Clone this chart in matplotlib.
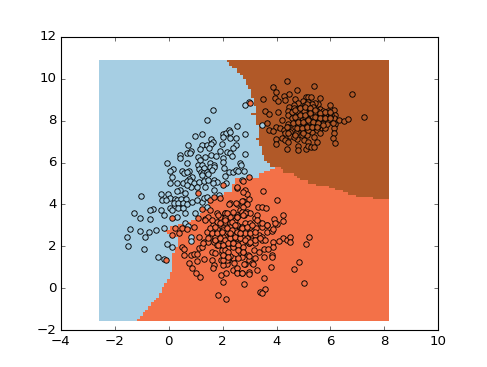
#Decision regions of a 3 class classifier with the samples on top

import numpy as np
import matplotlib
matplotlib.use("Agg")
import matplotlib.pyplot as plt
from matplotlib.colors import ListedColormap

class_colors = ["#a6cee3", "#f37148", "#b15928"]

#blue samples
x0 = [1.65,1.43,2.55,2.83,1.25,0.98,2.03,2.12,2.24,2.26,2.03,2.29,2.49,0.73,1.25,1.41,1.57,1.63,1.56,1.97,2.49,2.37,1.51,1.17,0.83,0.69,0.79,1.92,2.16,2.29,2.35,2.84,0.41,0.41,1.10,1.36,1.56,1.74,2.00,1.17,-0.05,0.69,1.08,1.25,1.55,1.68,2.03,2.65,2.67,0.16,0.05,0.51,0.57,0.77,0.67,1.14,1.32,1.55,1.69,2.05,1.21,1.27,1.42,1.61,2.23,2.37,2.49,2.58,2.81,0.11,0.88,0.74,1.24,1.46,2.07,0.05,0.32,0.53,0.68,0.79,0.94,1.11,1.30,1.46,1.67,1.79,2.73,2.96,2.83,
      -1.01,-0.27,-0.01,0.04,-0.26,-0.10,0.22,0.32,0.47,0.64,0.21,0.36,0.54,0.67,0.05,0.36,0.54,-0.57,-0.68,-0.27,-1.28,-1.08,-0.69,-0.17,0.11,0.32,0.61,0.98,0.62,0.73,-1.42,-1.06,-0.72,-0.48,-0.16,-0.87,-1.54,-1.52,-0.90,-0.07,0.11,-0.40,-0.16,0.83,0.83,1.41,1.22,1.31,1.41,1.05,0.83,0.67,0.42,0.30,0.62,0.85,1.06,1.69,1.85,2.13,1.66,1.36,3.45]
y0 = [8.49,8.01,7.76,7.37,7.34,7.26,7.37,7.42,7.55,7.47,7.20,7.15,7.17,6.82,6.85,6.84,7.10,7.00,6.87,6.88,6.82,6.68,6.68,6.64,6.53,6.47,6.47,6.55,6.50,6.47,6.33,6.42,6.34,6.22,6.28,6.25,6.37,6.29,6.22,6.10,5.98,5.96,5.87,5.90,5.96,5.90,6.02,5.98,5.90,5.67,5.58,5.58,5.50,5.58,5.56,5.69,5.75,5.80,5.77,5.75,5.56,5.52,5.56,5.64,5.56,5.56,5.66,5.58,5.58,5.31,5.31,5.20,5.40,5.44,5.36,5.04,5.04,5.01,5.10,5.13,5.04,5.05,5.13,5.17,5.15,5.09,5.17,8.87,8.74,
      4.40,4.48,4.48,4.29,4.21,4.21,4.26,4.21,4.28,4.25,4.09,4.05,4.05,4.02,3.82,3.82,3.82,3.78,3.72,3.72,3.58,3.37,3.29,3.50,3.74,3.39,3.61,3.58,3.10,2.97,2.85,2.73,2.70,2.80,2.89,2.45,2.46,2.03,1.89,2.13,1.99,1.50,1.42,2.46,2.27,3.86,4.13,4.29,4.37,4.85,4.85,4.93,4.69,4.66,4.56,4.13,4.21,4.69,4.45,5.01,5.01,4.82,7.79]

#orange samples
x1 = [0.12,-0.09,1.09,2.00,1.22,2.97,3.03,
      0.14,0.23,0.40,0.51,0.69,0.95,1.10,1.36,1.53,1.78,2.09,1.47,1.78,2.09,2.28,2.46,2.80,2.28,2.52,2.77,2.96,2.74,2.83,2.89,2.52,1.90,1.53,1.68,0.48,0.56,0.56,0.82,0.94,1.06,1.14,1.22,1.14,1.31,1.47,1.68,1.90,1.60,1.78,2.00,2.21,2.46,2.65,2.89,1.53,1.72,2.03,2.28,2.52,2.77,2.96,1.78,2.03,2.21,2.40,2.65,1.60,1.97,2.15,2.40,2.65,2.93,1.06,1.32,1.60,0.77,0.88,1.00,1.17,1.68,1.63,1.95,2.21,2.40,2.52,2.71,2.83,2.96,1.95,2.14,2.03,2.79,1.84,2.11,2.96,1.41,1.66,1.90,2.21,2.52,2.65,2.89,2.96,2.71,2.83,3.02,
      3.48,4.03,3.33,3.45,3.60,4.25,3.92,4.24,4.01,3.94,3.20,3.26,3.02,3.39,3.64,3.45,3.23,3.36,3.45,3.66,3.82,3.88,3.88,3.88,4.25,4.09,4.37,4.51,4.51,5.21,5.11,3.45,3.20,3.59,3.18,3.36,3.54,3.70,3.54,3.82,3.82,2.96,3.20,3.08,3.12,4.85,4.63,3.80,3.28,3.54,2.96,5.00,3.59,3.38,3.45,
      2.55,2.55,2.71,2.79,2.44,2.15,2.03,2.77,2.71,2.58,2.27,2.15,2.00,2.09,1.97,2.75,2.55,2.71,2.50,2.25,2.89,2.77,2.71,2.40,2.83,2.52,2.27,2.09,2.09,2.52,2.27,2.71,3.02,2.46,2.83,3.08,2.65,2.27,2.03,2.03,2.89,2.71,2.37,2.03,2.96,3.20,2.52,2.15,2.77,
      1.53,1.72,1.90,2.09,1.59,1.78,1.97,2.15,2.34,2.52,2.71,2.89,3.08,2.83,3.02,3.20,1.72,1.90,2.09,2.28,2.46,2.65,2.83,3.02,3.20,3.39,1.84,2.03,2.21,2.40,2.58,2.09,2.21,2.03,2.21,1.72,2.58,2.77,1.59,1.35,2.34,2.52,2.77,2.15,1.84,3.26,3.45,3.64,2.28,2.65,2.46,1.47,1.29]
y1 = [3.36,1.35,4.53,4.93,3.78,5.29,8.84,
      2.54,2.86,2.62,2.86,2.81,2.93,3.34,3.29,3.74,3.58,3.61,3.42,3.18,3.18,3.10,3.26,3.50,4.05,4.02,4.18,4.24,5.13,4.69,4.50,4.77,4.29,4.21,4.37,1.99,1.86,1.59,1.59,1.64,1.64,1.91,1.99,2.46,2.21,2.21,2.23,2.15,2.78,2.81,2.86,2.70,2.78,2.94,2.78,2.46,2.46,2.38,2.30,2.38,2.46,2.54,2.07,1.91,1.91,1.99,2.07,1.75,1.67,1.43,1.43,1.75,1.59,1.30,1.38,1.35,1.19,0.95,0.73,0.54,1.11,0.95,1.35,1.35,0.87,0.80,0.75,1.16,1.35,0.64,0.72,0.30,0.19,-0.33,-0.52,0.80,2.70,3.02,3.42,3.42,3.50,3.74,3.66,2.15,2.15,3.10,3.10,
      4.64,4.23,3.86,3.90,3.82,3.51,3.29,3.20,3.05,3.10,3.34,3.50,3.58,3.10,3.00,2.94,2.89,2.54,2.46,2.69,2.73,2.81,2.23,1.99,2.38,2.26,2.29,2.46,2.21,2.43,2.10,2.30,2.15,2.30,1.81,1.75,1.86,1.88,1.51,1.59,1.51,1.54,1.43,1.19,1.16,1.24,0.91,1.00,0.86,0.48,0.67,0.25,-0.05,-0.16,-0.24,
      0.95,0.72,0.72,1.15,1.19,1.16,1.10,1.75,1.51,1.43,1.54,1.35,1.35,1.70,1.83,4.61,4.85,4.18,4.09,4.02,4.02,3.90,3.66,3.66,3.58,3.39,3.42,3.58,3.34,3.02,2.94,2.94,2.94,2.78,2.78,2.54,2.62,2.54,2.46,2.78,2.38,2.15,2.15,2.15,2.15,2.54,2.38,2.23,1.99,
      2.86,2.94,3.10,3.26,2.62,2.62,2.70,2.86,2.78,2.70,2.86,2.94,3.02,2.62,2.62,2.70,2.31,2.39,2.31,2.39,2.47,2.39,2.31,2.23,2.31,2.39,2.07,2.07,2.15,2.15,2.07,1.83,1.75,1.59,1.51,1.67,1.83,1.75,3.26,3.26,3.18,3.42,3.50,3.58,3.50,3.26,3.10,3.02,2.62,2.62,3.02,2.39,2.15]

#brown samples
x2 = [4.37,5.39,3.88,3.99,4.76,4.45,4.29,6.79,3.51,3.96,4.04,4.32,4.69,5.63,5.08,5.18,5.29,4.97,5.18,4.81,4.63,4.46,5.52,6.00,5.43,5.31,5.06,3.59,3.72,4.07,4.44,4.65,4.87,5.12,5.37,5.62,5.74,5.92,6.12,4.43,4.19,4.65,4.87,5.15,5.34,5.55,5.84,6.17,4.74,4.93,5.22,5.43,5.62,5.92,6.13,6.33,6.52,6.65,7.26,3.66,3.98,4.13,3.71,3.85,4.44,4.63,5.06,5.43,5.74,6.17,4.44,4.69,4.93,5.24,5.62,5.80,6.13,4.28,4.32,4.50,4.72,5.00,5.31,5.49,6.13,4.21,3.97,4.33,4.50,4.77,4.93,5.12,5.39,5.62,6.09,3.98,4.44,4.63,5.00,5.15,5.50,6.18,4.37,4.80,4.81,5.10,5.15,5.29,5.39,
      4.56,4.77,5.00,5.24,5.49,4.56,4.81,5.06,5.31,5.55,5.76,6.01,4.75,5.00,5.15,5.34,5.52,5.86,5.99,4.85,5.15,5.34,5.55,5.12,5.43,5.65,5.71,6.08,
      4.69,4.87,5.06,5.24,5.43,5.61,5.80,5.99,4.69,4.87,5.06,5.24,5.43,5.61,5.80,5.99,4.62,4.81,4.99,5.18,5.37,5.55,5.74,4.75,4.93,5.12,5.30,5.49,4.44,4.69,4.99,4.38]
y2 = [9.89,9.63,9.60,9.38,9.44,9.25,9.19,9.27,9.01,9.08,8.92,8.97,9.01,9.06,9.12,9.11,9.14,8.92,8.89,8.82,8.74,8.63,8.79,8.74,8.84,8.77,8.74,8.44,8.31,8.41,8.44,8.58,8.58,8.57,8.63,8.55,8.47,8.46,8.49,8.25,8.04,8.27,8.35,8.38,8.38,8.31,8.28,8.27,8.03,8.11,7.95,8.11,8.03,8.03,8.11,8.01,7.96,8.09,8.15,7.90,7.68,7.63,7.53,7.50,7.84,7.95,7.79,7.79,7.87,7.84,7.68,7.71,7.55,7.71,7.63,7.66,7.63,7.55,7.39,7.47,7.39,7.42,7.47,7.55,7.42,7.18,7.10,7.07,7.26,7.14,7.31,7.31,7.23,7.39,7.18,6.90,6.99,7.23,7.07,6.99,6.96,6.91,6.63,6.79,6.58,6.63,6.79,6.76,6.72,
      8.42,8.47,8.47,8.50,8.47,8.11,8.15,8.15,8.22,8.11,8.15,8.27,7.87,7.95,8.06,7.95,7.90,7.84,8.15,7.68,7.55,7.68,7.74,8.79,8.42,8.31,8.11,7.87,
      8.50,8.58,8.66,8.58,8.50,8.35,8.43,8.43,8.19,8.27,8.27,8.35,8.19,8.11,8.11,8.11,7.87,7.95,7.95,8.03,7.95,7.87,7.79,7.63,7.63,7.71,7.71,7.71,7.39,7.31,7.39,7.71]

#where each mesh row stops being blue, from the bottom row (y=-1.54) upwards
blue_end = [-1.14,-1.10,-1.00,-0.92,-0.85,-0.80,-0.74,-0.68,-0.62,-0.56,-0.50,-0.40,-0.32,-0.29,-0.26,-0.23,-0.17,-0.14,-0.08,-0.05,
            0.00,0.03,0.06,0.09,0.12,0.15,0.15,0.15,0.15,0.15,0.15,0.18,0.21,0.23,0.27,0.33,0.36,0.36,0.36,0.36,
            0.05,-0.05,-0.12,0.00,0.05,0.30,0.54,0.85,1.00,1.08,1.16,1.22,1.29,1.35,1.42,1.47,1.50,1.55,1.62,1.78,
            2.03,2.34,2.34,2.34,2.34,2.46,2.46,2.46,3.33,3.33,3.51,3.76,3.94,3.80,3.76,3.66,3.57,3.54,3.51,3.49,
            3.47,3.45,3.41,3.38,3.35,3.35,3.26,3.35,3.35,3.35,3.35,3.35,3.35,3.30,3.28,3.26,3.26,3.26,3.08,3.24,
            3.23,3.22,3.20,3.18,3.16,3.14,3.10,3.08,3.06,3.04,3.00,2.96,2.90,2.85,2.81,2.78,2.75,2.65,2.57,2.50,
            2.37,2.28,2.22,2.15]

#where each mesh row turns brown
brown_start = [8.2]*58 + [7.53,6.95,6.67,6.42,6.17,5.95,5.50,5.20,5.12,4.85,4.75,4.65,4.30,4.25,4.20] + blue_end[73:]

x_edges = np.linspace(-2.57, 8.17, 108)
y_edges = np.linspace(-1.54, 10.89, 125)
x_centers = (x_edges[:-1] + x_edges[1:])/2

Z = np.zeros((len(y_edges)-1, len(x_centers)))
for row in range(Z.shape[0]):
    Z[row, x_centers >= blue_end[row]] = 1
    Z[row, x_centers >= brown_start[row]] = 2

plt.style.use("classic")
plt.figure(figsize=(487/80.0, 367/80.0), dpi=80, facecolor="white")
plt.pcolormesh(x_edges, y_edges, Z, cmap=ListedColormap(class_colors), vmin=0, vmax=2)
plt.scatter(x0, y0, s=24, c=class_colors[0], edgecolors="k", linewidths=0.8)
plt.scatter(x1, y1, s=24, c=class_colors[1], edgecolors="k", linewidths=0.8)
plt.scatter(x2, y2, s=24, c=class_colors[2], edgecolors="k", linewidths=0.8)
plt.xlim(-4, 10)
plt.ylim(-2, 12)
plt.savefig("out.png", dpi=80, facecolor="white")
